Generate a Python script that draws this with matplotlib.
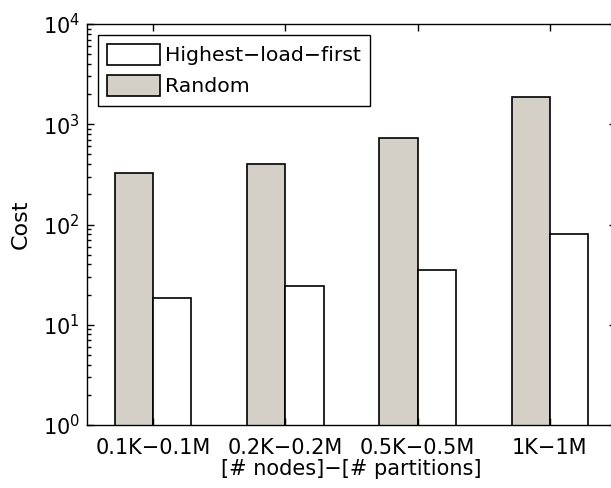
import matplotlib
matplotlib.use("Agg")
import matplotlib.pyplot as plt
import numpy as np

plt.rcParams["font.family"] = ["DejaVu Sans"]
plt.rcParams["mathtext.fontset"] = "dejavusans"
plt.rcParams["font.size"] = 15

# cost per configuration
configs = ["0.1K\u22120.1M", "0.2K\u22120.2M", "0.5K\u22120.5M", "1K\u22121M"]
random_cost = [324, 401, 734, 1858]
highest_load_cost = [18.4, 24.4, 35.2, 79.8]

BAR_GRAY = "#d4d0c8"
BAR_W = 0.29

fig = plt.figure(figsize=(6.11, 4.88), dpi=100)
ax = fig.add_axes([87 / 611, 63 / 488, 529 / 611, 401 / 488])

x = np.arange(1, len(configs) + 1)
ax.bar(x - BAR_W / 2, random_cost, width=BAR_W, color=BAR_GRAY,
       edgecolor="black", linewidth=1.2, label="Random")
ax.bar(x + BAR_W / 2, highest_load_cost, width=BAR_W, color="white",
       edgecolor="black", linewidth=1.2, label="Highest\u2212load\u2212first")

ax.set_yscale("log")
ax.set_ylim(1, 1e4)
ax.set_xlim(0.5, 4.5)
ax.set_xticks(x)
ax.set_xticklabels(configs)
ax.set_yticks([1, 10, 100, 1000, 10000])

for side in ax.spines.values():
    side.set_linewidth(1.0)
ax.tick_params(which="both", direction="in", top=True, right=True, width=1.0)
ax.tick_params(which="major", length=5)
ax.tick_params(which="minor", length=3, right=False)
ax.tick_params(axis="x", pad=9)
ax.tick_params(axis="y", pad=5)

ax.set_ylabel("Cost", fontsize=16, labelpad=9)
ax.set_xlabel("[# nodes]\u2212[# partitions]", labelpad=1)

# legend lists the white series first
handles, labels = ax.get_legend_handles_labels()
ax.legend(handles[::-1], labels[::-1], loc="upper left", fontsize=14.7,
          borderaxespad=0.53, borderpad=0.45, labelspacing=0.47,
          handlelength=2.6, handleheight=1.2, handletextpad=0.25,
          fancybox=False, framealpha=1, edgecolor="black")
ax.get_legend().get_frame().set_linewidth(1.0)

fig.savefig("out.png", dpi=100)
